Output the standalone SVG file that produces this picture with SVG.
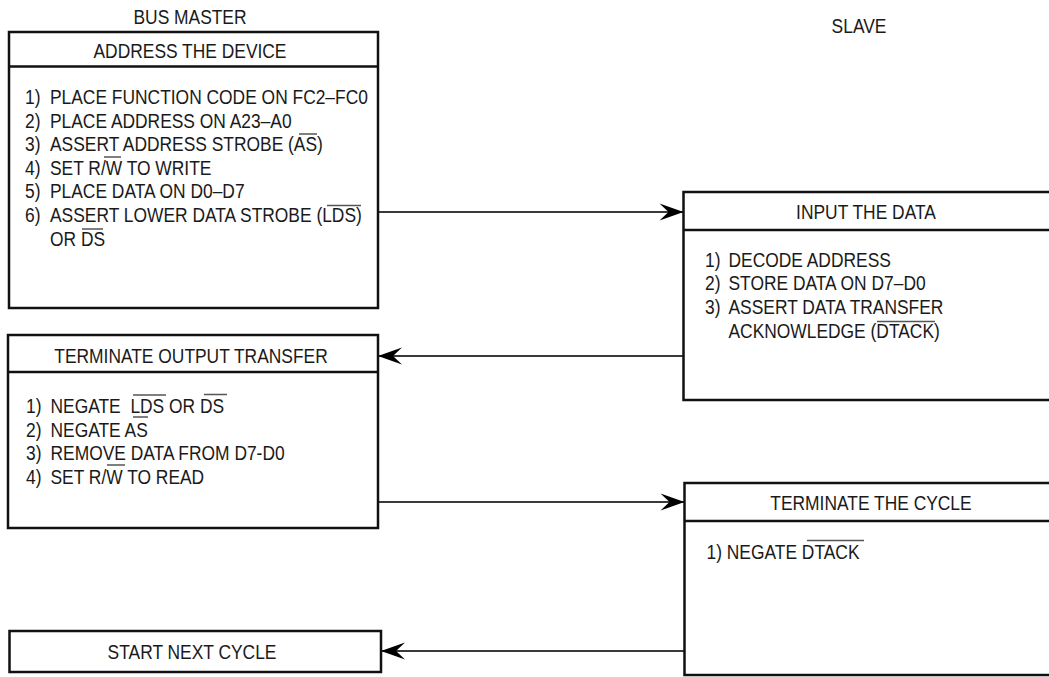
<svg xmlns="http://www.w3.org/2000/svg" width="1049" height="677" viewBox="0 0 1049 677">
  <style>
    .box { fill: #ffffff; stroke: #111111; stroke-width: 2.5; }
    .div { stroke: #111111; stroke-width: 2.5; }
    .t { font-family: "Liberation Sans", Arial, sans-serif; font-size: 20px; fill: #1a1a1a; }
    .c { text-anchor: middle; }
    .bar { stroke: #555555; stroke-width: 1.5; }
    .conn { fill: none; stroke: #3a3a3a; stroke-width: 1.8; }
  </style>
  <defs>
    <marker id="arrow" markerUnits="userSpaceOnUse" viewBox="-25 -10 26 20" refX="0" refY="0" markerWidth="26" markerHeight="20" orient="auto">
      <path d="M0,0 L-24,-8.5 L-15,0 L-24,8.5 Z" fill="#000000"/>
    </marker>
  </defs>

  <text class="t c" transform="translate(190 24) scale(0.87 1)">BUS MASTER</text>
  <text class="t c" transform="translate(859 33) scale(0.87 1)">SLAVE</text>

  <g id="connectors">
    <path class="conn" d="M378,212 H683.5" marker-end="url(#arrow)"/>
    <path class="conn" d="M683.5,356 H378" marker-end="url(#arrow)"/>
    <path class="conn" d="M378,502 H684.5" marker-end="url(#arrow)"/>
    <path class="conn" d="M684.5,651 H381" marker-end="url(#arrow)"/>
  </g>

  <g id="address-the-device">
    <rect class="box" x="9" y="32" width="369" height="276"/>
    <line class="div" x1="9" y1="66.5" x2="378" y2="66.5"/>
    <text class="t c" transform="translate(190 57.5) scale(0.87 1)">ADDRESS THE DEVICE</text>
    <text class="t" transform="translate(25 104) scale(0.87 1)">1)</text>
    <text class="t" transform="translate(50 104) scale(0.87 1)">PLACE FUNCTION CODE ON FC2–FC0</text>
    <text class="t" transform="translate(25 127.6) scale(0.87 1)">2)</text>
    <text class="t" transform="translate(50 127.6) scale(0.87 1)">PLACE ADDRESS ON A23–A0</text>
    <text class="t" transform="translate(25 151.2) scale(0.87 1)">3)</text>
    <text class="t" transform="translate(50 151.2) scale(0.87 1)">ASSERT ADDRESS STROBE (AS)</text>
    <text class="t" transform="translate(25 174.8) scale(0.87 1)">4)</text>
    <text class="t" transform="translate(50 174.8) scale(0.87 1)">SET R/W TO WRITE</text>
    <text class="t" transform="translate(25 198.4) scale(0.87 1)">5)</text>
    <text class="t" transform="translate(50 198.4) scale(0.87 1)">PLACE DATA ON D0–D7</text>
    <text class="t" transform="translate(25 222) scale(0.87 1)">6)</text>
    <text class="t" transform="translate(50 222) scale(0.87 1)">ASSERT LOWER DATA STROBE (LDS)</text>
    <text class="t" transform="translate(50 245.6) scale(0.87 1)">OR DS</text>
    <line class="bar" x1="299" y1="134" x2="317" y2="134"/>
    <line class="bar" x1="104" y1="157" x2="121" y2="157"/>
    <line class="bar" x1="327" y1="205.5" x2="361" y2="205.5"/>
    <line class="bar" x1="82" y1="229" x2="103" y2="229"/>
  </g>

  <g id="terminate-output-transfer">
    <rect class="box" x="8" y="335" width="370" height="193"/>
    <line class="div" x1="8" y1="372" x2="378" y2="372"/>
    <text class="t c" transform="translate(191 363) scale(0.87 1)">TERMINATE OUTPUT TRANSFER</text>
    <text class="t" transform="translate(26 413) scale(0.87 1)">1)</text>
    <text class="t" transform="translate(50.5 413) scale(0.87 1)">NEGATE &#160;LDS OR DS</text>
    <text class="t" transform="translate(26 436.5) scale(0.87 1)">2)</text>
    <text class="t" transform="translate(50.5 436.5) scale(0.87 1)">NEGATE AS</text>
    <text class="t" transform="translate(26 460) scale(0.87 1)">3)</text>
    <text class="t" transform="translate(50.5 460) scale(0.87 1)">REMOVE DATA FROM D7-D0</text>
    <text class="t" transform="translate(26 483.5) scale(0.87 1)">4)</text>
    <text class="t" transform="translate(50.5 483.5) scale(0.87 1)">SET R/W TO READ</text>
    <line class="bar" x1="133" y1="395" x2="166" y2="395"/>
    <line class="bar" x1="204" y1="394.5" x2="227" y2="394.5"/>
    <line class="bar" x1="133" y1="417" x2="148" y2="417"/>
    <line class="bar" x1="107" y1="465" x2="125" y2="465"/>
  </g>

  <g id="input-the-data">
    <rect class="box" x="683.5" y="192" width="400" height="208"/>
    <line class="div" x1="683.5" y1="230" x2="1083.5" y2="230"/>
    <text class="t c" transform="translate(866 219) scale(0.87 1)">INPUT THE DATA</text>
    <text class="t" transform="translate(705 266.5) scale(0.87 1)">1)</text>
    <text class="t" transform="translate(728.5 266.5) scale(0.87 1)">DECODE ADDRESS</text>
    <text class="t" transform="translate(705 290) scale(0.87 1)">2)</text>
    <text class="t" transform="translate(728.5 290) scale(0.87 1)">STORE DATA ON D7–D0</text>
    <text class="t" transform="translate(705 313.5) scale(0.87 1)">3)</text>
    <text class="t" transform="translate(728.5 313.5) scale(0.87 1)">ASSERT DATA TRANSFER</text>
    <text class="t" transform="translate(728.5 337.5) scale(0.87 1)">ACKNOWLEDGE (DTACK)</text>
    <line class="bar" x1="877" y1="321.5" x2="935" y2="321.5"/>
  </g>

  <g id="terminate-the-cycle">
    <rect class="box" x="684.5" y="483" width="400" height="192"/>
    <line class="div" x1="684.5" y1="521" x2="1084.5" y2="521"/>
    <text class="t c" transform="translate(871 510) scale(0.87 1)">TERMINATE THE CYCLE</text>
    <text class="t" transform="translate(706.5 559) scale(0.87 1)">1) NEGATE DTACK</text>
    <line class="bar" x1="807" y1="540.5" x2="864" y2="540.5"/>
  </g>

  <g id="start-next-cycle">
    <rect class="box" x="9.5" y="631" width="371.5" height="41"/>
    <text class="t c" transform="translate(192 659) scale(0.87 1)">START NEXT CYCLE</text>
  </g>
</svg>
